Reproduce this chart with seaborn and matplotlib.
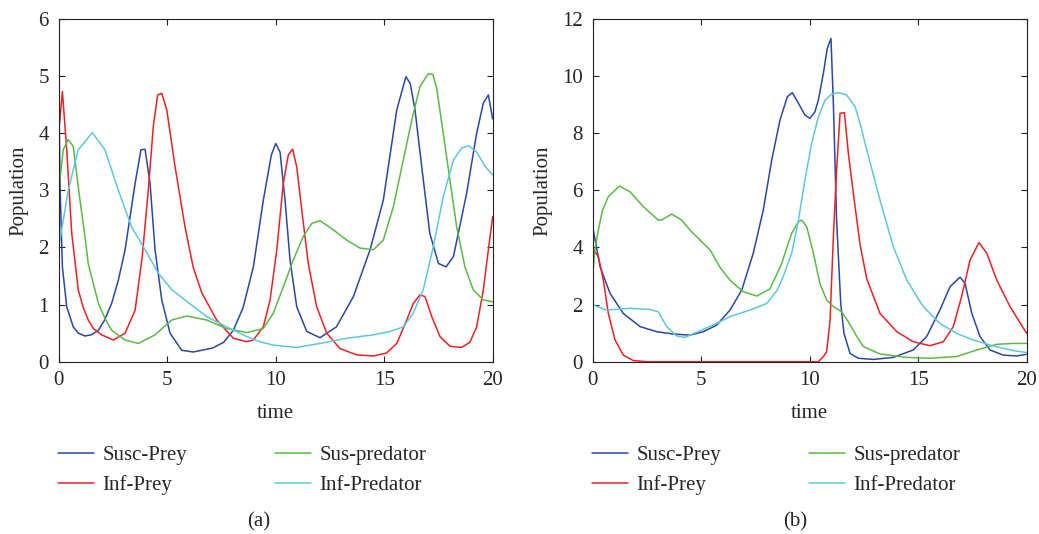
import numpy as np
import pandas as pd
import matplotlib
matplotlib.use("Agg")
import matplotlib.pyplot as plt
import seaborn as sns

# ---- panel (a) data: (time, population) ----
a_susc_prey_t = [0, 0.06, 0.17, 0.37, 0.67, 0.9, 1.21, 1.5, 1.83, 2.1, 2.44, 2.75, 3.06, 3.52, 3.79, 3.98,
                 4.21, 4.44, 4.75, 5.13, 5.67, 6.2, 7.1, 7.6, 8.05, 8.5, 8.97, 9.43, 9.8, 10.0, 10.2, 10.43,
                 10.66, 10.97, 11.43, 12.04, 12.8, 13.58, 14.35, 14.96, 15.58, 16.0, 16.2, 16.42, 16.73, 17.1,
                 17.5, 17.85, 18.19, 18.8, 19.26, 19.57, 19.8, 20.0]
a_susc_prey_v = [5.0, 3.1, 1.66, 0.96, 0.61, 0.5, 0.45, 0.47, 0.55, 0.72, 1.02, 1.43, 1.96, 3.12, 3.71, 3.72,
                 3.12, 1.96, 1.08, 0.5, 0.2, 0.17, 0.24, 0.34, 0.55, 0.95, 1.66, 2.83, 3.62, 3.82, 3.67, 2.83,
                 1.78, 0.96, 0.53, 0.42, 0.61, 1.14, 1.96, 2.83, 4.41, 4.99, 4.87, 4.41, 3.41, 2.25,
                 1.72, 1.66, 1.84, 2.95, 4.0, 4.53, 4.67, 4.25]

a_inf_prey_t = [0, 0.17, 0.37, 0.6, 0.9, 1.13, 1.36, 1.6, 1.98, 2.52, 3.06, 3.52, 3.85, 4.13, 4.36, 4.56,
                4.75, 4.98, 5.36, 5.82, 6.2, 6.6, 7.28, 8.05, 8.66, 8.97, 9.43, 9.74, 10.05, 10.35, 10.58,
                10.78, 10.97, 11.2, 11.5, 11.89, 12.35, 12.96, 13.73, 14.5, 15.1, 15.58, 16.04, 16.34, 16.65,
                16.88, 17.19, 17.57, 18.03, 18.57, 18.95, 19.26, 19.57, 19.8, 20.0]
a_inf_prey_v = [4.0, 4.73, 3.71, 2.25, 1.26, 0.95, 0.73, 0.58, 0.47, 0.38, 0.5, 0.9, 1.84, 3.01, 4.12, 4.67,
                4.7, 4.41, 3.42, 2.36, 1.65, 1.2, 0.73, 0.41, 0.35, 0.38, 0.61, 1.08, 1.96, 3.12, 3.62,
                3.72, 3.41, 2.66, 1.72, 0.96, 0.5, 0.23, 0.12, 0.1, 0.15, 0.32, 0.73, 1.02, 1.17,
                1.14, 0.79, 0.44, 0.27, 0.25, 0.34, 0.61, 1.26, 1.96, 2.54]

a_sus_pred_t = [0, 0.21, 0.44, 0.67, 0.98, 1.21, 1.36, 1.83, 2.13, 2.44, 3.06, 3.67, 4.44, 5.21, 5.9, 6.82,
                7.74, 8.66, 9.43, 9.89, 10.35, 10.81, 11.27, 11.66, 12.04, 12.65, 13.27, 13.88, 14.5, 14.96,
                15.42, 15.88, 16.27, 16.65, 17.03, 17.24, 17.42, 17.72, 18.03, 18.34, 18.72, 19.1, 19.57, 20.0]
a_sus_pred_v = [3.0, 3.71, 3.89, 3.77, 2.83, 2.19, 1.72, 1.02, 0.76, 0.55, 0.38, 0.32, 0.47, 0.73, 0.8, 0.73,
                0.58, 0.51, 0.58, 0.85, 1.31, 1.78, 2.19, 2.42, 2.47, 2.31, 2.13, 1.99, 1.96, 2.13,
                2.71, 3.53, 4.23, 4.82, 5.04, 5.03, 4.79, 4.0, 3.18, 2.36, 1.66, 1.26, 1.08, 1.05]

a_inf_pred_t = [0, 0.44, 0.9, 1.55, 2.13, 2.75, 3.36, 3.98, 4.59, 5.21, 5.82, 6.82, 7.74, 8.66, 9.27, 9.89,
                10.97, 12.04, 13.27, 14.5, 15.27, 15.88, 16.34, 16.8, 17.26, 17.72, 18.19, 18.57, 18.88,
                19.26, 19.65, 20.0]
a_inf_pred_v = [2.0, 3.0, 3.71, 4.01, 3.71, 3.0, 2.36, 1.96, 1.55, 1.26, 1.08, 0.79, 0.61, 0.44, 0.35, 0.29,
                0.25, 0.32, 0.41, 0.47, 0.53, 0.61, 0.85, 1.26, 2.01, 2.89, 3.53, 3.74, 3.78,
                3.67, 3.42, 3.27]

# ---- panel (b) data ----
b_susc_prey_t = [0, 0.03, 0.34, 0.8, 1.41, 2.18, 2.95, 3.71, 4.48, 5.1, 5.71, 6.33, 6.87, 7.4, 7.86, 8.25,
                 8.63, 8.97, 9.2, 9.48, 9.78, 10.01, 10.24, 10.4, 10.63, 10.81, 10.98, 11.09, 11.24, 11.43,
                 11.58, 11.86, 12.24, 12.93, 13.85, 14.77, 15.39, 16.0, 16.47, 16.93, 17.16, 17.47, 17.85,
                 18.31, 18.92, 19.54, 20.0]
b_susc_prey_v = [5.0, 4.6, 3.33, 2.39, 1.69, 1.23, 1.05, 0.97, 0.93, 1.05, 1.28, 1.81, 2.51, 3.8, 5.31, 7.06,
                 8.46, 9.28, 9.42, 9.05, 8.64, 8.52, 8.75, 9.16, 10.1, 10.97, 11.32, 9.05, 4.96, 2.04,
                 0.99, 0.29, 0.12, 0.08, 0.15, 0.41, 0.88, 1.81, 2.63, 2.96, 2.74, 1.69, 0.88,
                 0.41, 0.23, 0.2, 0.26]

b_inf_prey_t = [0, 0.26, 0.49, 0.72, 1.03, 1.41, 1.87, 2.5, 5.0, 7.5, 10.4, 10.63, 10.78, 10.94, 11.09,
                11.24, 11.4, 11.6, 11.78, 12.09, 12.32, 12.63, 13.24, 14.01, 14.77, 15.54, 16.16, 16.62,
                17.0, 17.39, 17.8, 18.16, 18.62, 19.23, 20.0]
b_inf_prey_v = [3.97, 3.68, 2.86, 1.69, 0.76, 0.23, 0.04, 0.0, 0.0, 0.0, 0.0, 0.18, 0.35, 1.46, 4.38,
                6.71, 8.7, 8.72, 7.3, 5.43, 4.1, 2.9, 1.69, 1.05, 0.7, 0.56, 0.7, 1.23,
                2.28, 3.56, 4.17, 3.8, 2.86, 1.93, 0.99]

b_sus_pred_t = [0, 0.1, 0.26, 0.45, 0.72, 1.23, 1.72, 2.33, 3.02, 3.18, 3.64, 4.1, 4.48, 5.41, 5.87, 6.33,
                6.94, 7.56, 8.17, 8.71, 9.17, 9.48, 9.63, 9.86, 10.17, 10.47, 10.78, 11.09, 11.47, 11.78,
                12.17, 12.47, 13.24, 14.47, 15.54, 16.77, 17.7, 18.62, 19.38, 20.0]
b_sus_pred_v = [3.0, 3.91, 4.61, 5.3, 5.78, 6.15, 5.95, 5.43, 4.96, 4.96, 5.17, 4.96, 4.61, 3.91, 3.3, 2.85,
                2.45, 2.3, 2.55, 3.44, 4.5, 4.9, 4.96, 4.73, 3.8, 2.74, 2.16, 1.93, 1.75, 1.4,
                0.88, 0.53, 0.27, 0.15, 0.12, 0.18, 0.41, 0.61, 0.64, 0.64]

b_inf_pred_t = [0, 0.64, 1.72, 2.64, 3.02, 3.41, 3.87, 4.25, 4.94, 5.71, 6.33, 7.25, 8.02, 8.5, 8.78, 9.17,
                9.48, 9.78, 10.09, 10.4, 10.71, 11.01, 11.32, 11.7, 12.09, 12.32, 12.63, 13.24, 13.85, 14.47,
                15.23, 16.0, 16.77, 17.54, 18.46, 19.38, 20.0]
b_inf_pred_v = [1.99, 1.81, 1.87, 1.83, 1.75, 1.23, 0.9, 0.85, 1.08, 1.34, 1.58, 1.81, 2.04, 2.5, 2.98, 3.8,
                4.96, 6.36, 7.65, 8.58, 9.16, 9.37, 9.42, 9.34, 8.93, 8.35, 7.41, 5.66, 4.03, 2.86,
                1.93, 1.34, 0.99, 0.76, 0.55, 0.39, 0.32]

names = ["Susc-Prey", "Inf-Prey", "Sus-predator", "Inf-Predator"]
colors = ["#2a47a3", "#ee2024", "#5bb947", "#5ec7dd"]

sns.set_style("ticks")
plt.rcParams["font.family"] = ["Liberation Serif", "DejaVu Serif"]
plt.rcParams["xtick.direction"] = "in"
plt.rcParams["ytick.direction"] = "in"
plt.rcParams["axes.edgecolor"] = "#222222"

W, H = 1039, 534
FS = 15
fig = plt.figure(figsize=(W / 100, H / 100), dpi=100)


def draw_panel(left_px, series, ymax, ystep, tag, tag_x):
    ax = fig.add_axes([left_px / W, (H - 361.7) / H, 434 / W, (361.7 - 19) / H])
    for (t, v), name, c in zip(series, names, colors):
        df = pd.DataFrame({"time": t, "Population": v})
        sns.lineplot(data=df, x="time", y="Population", ax=ax, color=c, label=name,
                     linewidth=1.1, sort=False, errorbar=None)
    ax.set_xlim(0, 20)
    ax.set_ylim(0, ymax)
    ax.set_xticks(np.arange(0, 21, 5))
    ax.set_yticks(np.arange(0, ymax + 0.1, ystep))
    ax.tick_params(top=True, right=True, length=4, width=0.8, labelsize=FS, pad=7, color="#222222")
    for s in ax.spines.values():
        s.set_linewidth(0.8)
    ax.set_xlabel("time", fontsize=FS, labelpad=10)
    ax.set_ylabel("Population", fontsize=FS, labelpad=7)
    ax.legend(loc="upper left", bbox_to_anchor=((left_px - 1) / W, 0.166), bbox_transform=fig.transFigure,
              ncol=2, frameon=False, fontsize=FS, handlelength=1.75, handletextpad=0.4,
              columnspacing=4.2, labelspacing=0.5, borderpad=0, borderaxespad=0)
    fig.text(tag_x / W, 1 - 522 / H, tag, ha="center", va="center", fontsize=FS)
    return ax


draw_panel(58.7, [(a_susc_prey_t, a_susc_prey_v), (a_inf_prey_t, a_inf_prey_v),
                  (a_sus_pred_t, a_sus_pred_v), (a_inf_pred_t, a_inf_pred_v)], 6, 1, "(a)", 259)
draw_panel(592.7, [(b_susc_prey_t, b_susc_prey_v), (b_inf_prey_t, b_inf_prey_v),
                   (b_sus_pred_t, b_sus_pred_v), (b_inf_pred_t, b_inf_pred_v)], 12, 2, "(b)", 795)

fig.savefig("out.png", dpi=100)
